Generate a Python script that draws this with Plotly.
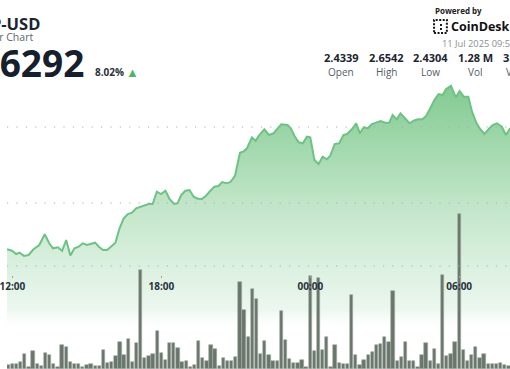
import plotly.graph_objects as go
import pandas as pd

W, H = 510, 369
FONT = "Open Sans"

# ---------------- data ----------------
symbol = "XRP-USD"
subtitle = "24 Hour Chart"
last_price = "2.6292"
change_pct = "8.02%"
timestamp_text = "11 Jul 2025 09:51"
stat_labels = ["Open", "High", "Low", "Vol", "Vol ($)"]
stat_values = ["2.4339", "2.6542", "2.4304", "1.28 M", "3.20 M"]

view_start = "2025-07-10 11:46:53"
view_end = "2025-07-11 08:02:46"

price_base = "2025-07-10 11:47"
price_minutes = [
    0, 12, 22, 30, 41, 52, 64, 78, 91, 102, 111, 123, 133, 143, 153, 163, 173, 183, 193, 203,
    213, 222, 232, 242, 253, 262, 272, 282, 292, 302, 312, 322, 332, 342, 352, 362, 372, 383, 393, 404,
    412, 421, 431, 441, 451, 461, 471, 481, 491, 501, 511, 520, 531, 540, 551, 563, 572, 580, 592, 601,
    608, 622, 633, 644, 654, 663, 678, 686, 695, 705, 715, 725, 733, 743, 753, 763, 773, 781, 792, 803,
    813, 822, 834, 844, 853, 862, 872, 882, 892, 903, 914, 924, 932, 942, 951, 961, 973, 983, 993, 1004,
    1013, 1023, 1033, 1043, 1053, 1061, 1073, 1085, 1094, 1104, 1115, 1124, 1135, 1144, 1154, 1164, 1174,
    1184, 1196, 1206, 1216,
]
price_values = [
    2.4391, 2.4372, 2.4329, 2.4346, 2.4304, 2.4316, 2.4391, 2.4447, 2.4588, 2.4470,
    2.4404, 2.4417, 2.4372, 2.4513, 2.4310, 2.4404, 2.4425, 2.4470, 2.4447, 2.4461,
    2.4478, 2.4425, 2.4382, 2.4382, 2.4434, 2.4478, 2.4667, 2.4799, 2.4855, 2.4872,
    2.4930, 2.4951, 2.4970, 2.4987, 2.4987, 2.5149, 2.5118, 2.5162, 2.5049, 2.4987,
    2.4996, 2.5105, 2.5162, 2.5171, 2.5083, 2.5057, 2.5053, 2.5096, 2.5158, 2.5214,
    2.5224, 2.5276, 2.5259, 2.5276, 2.5359, 2.5662, 2.5680, 2.5720, 2.5864, 2.5816,
    2.5882, 2.5970, 2.5895, 2.5917, 2.5983, 2.6036, 2.6026, 2.5983, 2.5882, 2.5799,
    2.5786, 2.5872, 2.5864, 2.5566, 2.5513, 2.5609, 2.5575, 2.5618, 2.5776, 2.5786,
    2.5895, 2.5908, 2.5974, 2.6049, 2.5917, 2.5996, 2.5983, 2.6039, 2.6057, 2.6079,
    2.6057, 2.6057, 2.6158, 2.6101, 2.6180, 2.6114, 2.6049, 2.6083, 2.6101, 2.6101,
    2.6145, 2.6246, 2.6355, 2.6434, 2.6421, 2.6496, 2.6542, 2.6391, 2.6474, 2.6399,
    2.6399, 2.6201, 2.6049, 2.5970, 2.5908, 2.5970, 2.6026, 2.6049, 2.6004, 2.5895,
    2.5983,
]

volume_start = "2025-07-10 11:40"
volume_k = [
    6.7, 1.4, 1.6, 1.9, 2.5, 5.3, 0.6, 6.3, 1.8, 1.1, 5.7, 4.9, 1.9, 0.8, 8.5, 7.6, 2.3, 1.6, 1.8, 0.6,
    1.5, 1.9, 1.1, 1.1, 6.7, 2.0, 2.6, 4.7, 9.5, 4.9, 10.4, 2.5, 9.0, 34.7, 4.0, 4.7, 5.3, 13.4, 5.5, 3.2,
    9.0, 9.0, 7.2, 2.5, 2.9, 0.6, 1.4, 9.9, 3.7, 2.8, 8.3, 7.1, 1.1, 4.0, 2.8, 2.8, 4.3, 30.3, 20.7, 11.1,
    28.0, 24.4,
    5.4, 9.8, 4.9, 2.8, 2.9, 20.2, 10.0, 3.5, 2.0, 2.1, 3.3, 0.8, 32.7, 6.3, 31.7, 6.8, 11.1, 0.8, 8.4, 2.0,
    1.9, 1.9, 25.8, 4.9, 1.4, 3.2, 4.9, 6.1, 8.4, 8.6, 11.1, 9.6, 27.3, 2.8, 4.1, 9.6, 2.7, 2.7, 0.6, 4.9,
    9.0, 2.8, 6.9, 1.6, 33.0, 4.6, 5.1, 9.6, 54.3, 6.7, 2.9, 4.8, 7.8, 4.0, 5.3, 1.8, 1.8, 1.9, 2.2, 1.4,
    1.2,
]

tick_times = ["2025-07-10 12:00", "2025-07-10 18:00", "2025-07-11 00:00", "2025-07-11 06:00"]
tick_labels = ["12:00", "18:00", "00:00", "06:00"]
price_gridlines = [2.5, 2.6]
price_range = [2.2816, 2.7671]
volume_range = [0, 129.15]

# ---------------- build ----------------
price_times = pd.Timestamp(price_base) + pd.to_timedelta(price_minutes, unit="min")
volume_times = pd.date_range(volume_start, periods=len(volume_k), freq="10min")


def px(x, y):
    return x / W, 1 - y / H


fig = go.Figure()
fig.add_trace(go.Scatter(
    x=price_times, y=price_values, mode="lines",
    line=dict(color="#6cc383", width=2),
    fill="tozeroy",
    fillgradient=dict(
        type="vertical", start=2.33, stop=2.66,
        colorscale=[
            [0.0, "rgba(255,255,255,0)"],
            [0.09, "rgb(236,247,239)"],
            [0.27, "rgb(218,240,223)"],
            [0.52, "rgb(192,229,199)"],
            [0.82, "rgb(152,212,164)"],
            [1.0, "rgb(128,201,144)"],
        ],
    ),
    hoverinfo="skip", yaxis="y",
))
fig.add_trace(go.Bar(
    x=volume_times, y=volume_k, width=480000,
    marker=dict(color="#6a766c", line=dict(color="#a3ada4", width=0.6)),
    yaxis="y2", hoverinfo="skip",
))

shapes = []
for g in price_gridlines:
    shapes.append(dict(type="line", xref="paper", yref="y", x0=0, x1=1, y0=g, y1=g,
                       line=dict(color="#a9aeab", width=1.2, dash="1.2px,8.2px"), layer="above"))
_, yb = px(0, 266)
shapes.append(dict(type="line", xref="paper", yref="paper", x0=0, x1=1, y0=yb, y1=yb,
                   line=dict(color="#a9aeab", width=1.2, dash="1.2px,8.2px"), layer="above"))

# CoinDesk logo mark
lx0, ly0 = px(433, 20)
lx1, ly1 = px(446, 33)
shapes.append(dict(type="rect", xref="paper", yref="paper", x0=lx0, x1=lx1, y0=ly1, y1=ly0,
                   line=dict(color="#151515", width=2, dash="2px,1.5px")))
for (a, b) in [(439, 24), (439, 28)]:
    x0, y0 = px(a, b)
    x1, y1 = px(a + 2, b + 2)
    shapes.append(dict(type="rect", xref="paper", yref="paper", x0=x0, x1=x1, y0=y1, y1=y0,
                       fillcolor="#151515", line=dict(width=0)))


def ann(text, x, y, size, color, bold=False, xanchor="left"):
    ax, ay = px(x, y)
    return dict(text=f"<b>{text}</b>" if bold else text, x=ax, y=ay, xref="paper", yref="paper",
                xanchor=xanchor, yanchor="middle", showarrow=False,
                font=dict(size=size, color=color, family=FONT))


anns = [
    ann(symbol, 35, 23, 16.5, "#1b2431", True, "right"),
    ann(subtitle, 28, 37, 10.5, "#5d6470", False, "right"),
    ann(last_price, 80, 62, 37, "#16202c", True, "right"),
    ann(change_pct, 87, 72, 10, "#2b3138", True, "left"),
    ann("▲", 118.5, 72, 13, "#4cb866", False, "left"),
    ann("Powered by", 432, 10, 8, "#222222", True, "left"),
    ann("CoinDesk", 448, 26.5, 12.5, "#111111", True, "left"),
    ann(timestamp_text, 439, 44, 9.3, "#8a8f96", False, "left"),
]
for i, (v, l) in enumerate(zip(stat_values, stat_labels)):
    cx = 339 + i * 45.3
    anns.append(ann(v, cx, 58, 11, "#1b2431", True, "center"))
    anns.append(ann(l, cx, 71.5, 10, "#555d66", False, "center"))

fig.update_layout(
    width=W, height=H, margin=dict(l=0, r=0, t=0, b=0),
    paper_bgcolor="white", plot_bgcolor="white", showlegend=False,
    shapes=shapes, annotations=anns, bargap=0,
    xaxis=dict(
        type="date", range=[view_start, view_end],
        tickvals=tick_times, ticktext=tick_labels,
        ticks="outside", ticklen=2, tickwidth=1.2, tickcolor="#9aa09c",
        tickfont=dict(size=10, color="#29313b", family=FONT, weight="bold"),
        ticklabeloverflow="allow",
        showgrid=False, zeroline=False, showline=False,
        anchor="free", position=px(0, 275)[1], fixedrange=True,
    ),
    yaxis=dict(range=price_range, showgrid=False, zeroline=False, showticklabels=False,
               domain=[0, 1], fixedrange=True),
    yaxis2=dict(range=volume_range, overlaying="y", showgrid=False, zeroline=False,
                showticklabels=False, fixedrange=True),
)

fig.write_html("out.html")
